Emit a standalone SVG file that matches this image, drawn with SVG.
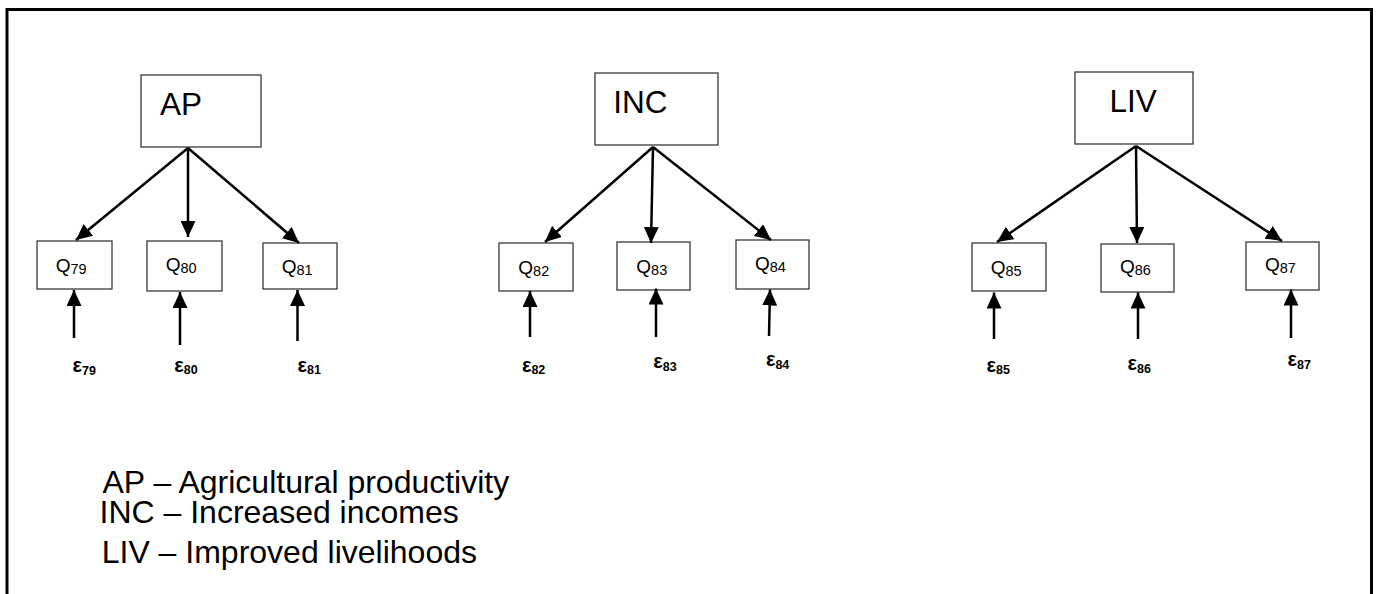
<svg xmlns="http://www.w3.org/2000/svg" width="1378" height="594" viewBox="0 0 1378 594">
<style>
.box{fill:#fff;stroke:#3a3a3a;stroke-width:1.3}
.big{font-family:"Liberation Sans",Arial,sans-serif;font-size:31.5px;fill:#000}
.q{font-family:"Liberation Sans",Arial,sans-serif;font-size:19px;fill:#000}
.qs{font-size:14.5px}
.e{font-family:"Liberation Sans",Arial,sans-serif;font-size:20px;font-weight:bold;fill:#000}
.es{font-size:12.5px}
.leg{font-family:"Liberation Sans",Arial,sans-serif;font-size:32px;fill:#000}
.ar{stroke:#000;stroke-width:2.5;fill:none;marker-end:url(#ah)}
</style>
<defs>
<marker id="ah" markerUnits="userSpaceOnUse" markerWidth="16" markerHeight="15" refX="16" refY="7.5" orient="auto" viewBox="0 0 16 15">
<path d="M0,0 L16,7.5 L0,15 z" fill="#000"/>
</marker>
</defs>
<rect width="1378" height="594" fill="#fff"/>
<path d="M7,600 V9.5 H1371.5 V600" fill="none" stroke="#000" stroke-width="3"/>

<g id="AP"><rect class="box" x="141" y="75" width="120" height="72"/><text class="big" x="160" y="115">AP</text></g>
<g id="INC"><rect class="box" x="595" y="73" width="123" height="72"/><text class="big" x="613.3" y="112.7">INC</text></g>
<g id="LIV"><rect class="box" x="1075" y="72" width="118" height="72"/><text class="big" x="1109.4" y="111.7">LIV</text></g>

<g id="Q79"><rect class="box" x="37" y="241" width="75" height="48"/><text class="q" x="55.7" y="271.5">Q<tspan class="qs" dy="2">79</tspan></text></g>
<g id="Q80"><rect class="box" x="147" y="241" width="75" height="50"/><text class="q" x="165.7" y="271">Q<tspan class="qs" dy="2">80</tspan></text></g>
<g id="Q81"><rect class="box" x="263" y="243" width="74" height="46"/><text class="q" x="281.7" y="273">Q<tspan class="qs" dy="2">81</tspan></text></g>
<g id="Q82"><rect class="box" x="499" y="243" width="74" height="48"/><text class="q" x="518.3" y="274">Q<tspan class="qs" dy="2">82</tspan></text></g>
<g id="Q83"><rect class="box" x="617" y="242" width="73" height="48"/><text class="q" x="636.3" y="272.5">Q<tspan class="qs" dy="2">83</tspan></text></g>
<g id="Q84"><rect class="box" x="736" y="240" width="73" height="49"/><text class="q" x="755" y="270">Q<tspan class="qs" dy="2">84</tspan></text></g>
<g id="Q85"><rect class="box" x="972" y="243" width="74" height="48"/><text class="q" x="990.7" y="274">Q<tspan class="qs" dy="2">85</tspan></text></g>
<g id="Q86"><rect class="box" x="1101" y="244" width="73" height="48"/><text class="q" x="1120" y="273">Q<tspan class="qs" dy="2">86</tspan></text></g>
<g id="Q87"><rect class="box" x="1246" y="242" width="73" height="48"/><text class="q" x="1265" y="271">Q<tspan class="qs" dy="2">87</tspan></text></g>

<g id="E79"><text class="e" x="72.5" y="372.3">ε<tspan class="es" dy="2.5">79</tspan></text></g>
<g id="E80"><text class="e" x="174.2" y="371.7">ε<tspan class="es" dy="2.5">80</tspan></text></g>
<g id="E81"><text class="e" x="297.5" y="371.7">ε<tspan class="es" dy="2.5">81</tspan></text></g>
<g id="E82"><text class="e" x="521.9" y="371.5">ε<tspan class="es" dy="2.5">82</tspan></text></g>
<g id="E83"><text class="e" x="653.2" y="368">ε<tspan class="es" dy="2.5">83</tspan></text></g>
<g id="E84"><text class="e" x="765.9" y="366">ε<tspan class="es" dy="2.5">84</tspan></text></g>
<g id="E85"><text class="e" x="986.5" y="371.5">ε<tspan class="es" dy="2.5">85</tspan></text></g>
<g id="E86"><text class="e" x="1127.5" y="370">ε<tspan class="es" dy="2.5">86</tspan></text></g>
<g id="E87"><text class="e" x="1287.5" y="366">ε<tspan class="es" dy="2.5">87</tspan></text></g>

<g id="connectors">
<line class="ar" x1="188" y1="148" x2="76" y2="240"/>
<line class="ar" x1="188" y1="148" x2="188" y2="237"/>
<line class="ar" x1="188" y1="148" x2="299" y2="243"/>
<line class="ar" x1="74" y1="338" x2="74" y2="290"/>
<line class="ar" x1="180" y1="345" x2="180" y2="292"/>
<line class="ar" x1="297.5" y1="341" x2="297.5" y2="290"/>

<line class="ar" x1="653" y1="147" x2="545" y2="242"/>
<line class="ar" x1="653" y1="147" x2="651" y2="243"/>
<line class="ar" x1="653" y1="147" x2="771" y2="240"/>
<line class="ar" x1="530" y1="337" x2="530" y2="291"/>
<line class="ar" x1="656" y1="337" x2="656" y2="288.5"/>
<line class="ar" x1="769" y1="336" x2="770" y2="289.5"/>

<line class="ar" x1="1136" y1="146" x2="997" y2="242"/>
<line class="ar" x1="1136" y1="146" x2="1137" y2="243"/>
<line class="ar" x1="1136" y1="146" x2="1282" y2="241"/>
<line class="ar" x1="994" y1="339" x2="994" y2="292.5"/>
<line class="ar" x1="1138" y1="339" x2="1138" y2="292.5"/>
<line class="ar" x1="1291" y1="338" x2="1291" y2="289.5"/>
</g>

<g id="legend">
<text class="leg" x="102.5" y="493.3">AP – Agricultural productivity</text>
<text class="leg" x="99.5" y="523.3">INC – Increased incomes</text>
<text class="leg" x="101.7" y="563.3">LIV – Improved livelihoods</text>
</g>
</svg>
